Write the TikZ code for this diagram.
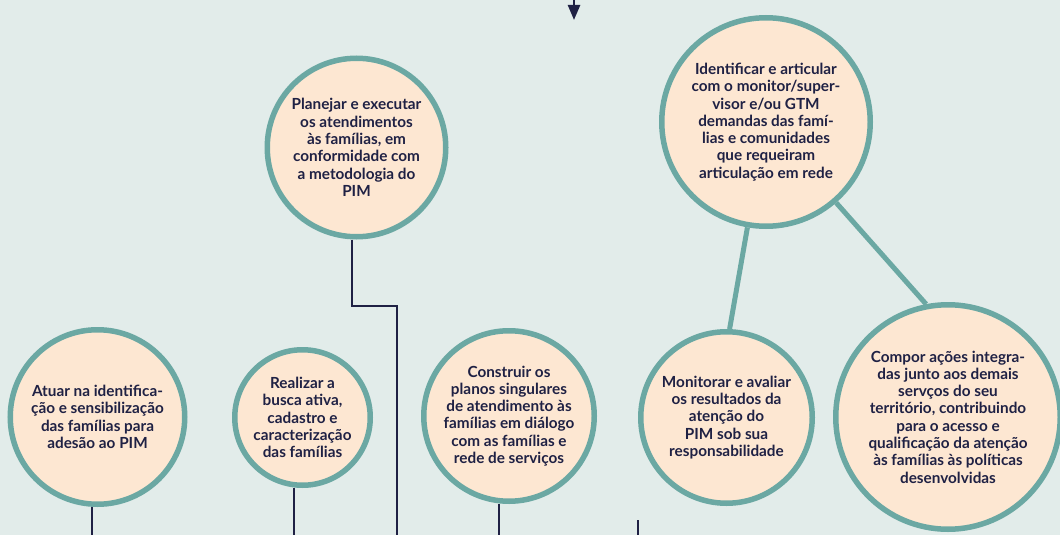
\documentclass[tikz,border=0pt]{standalone}
\usepackage{fontspec}
\setmainfont{Lato}
\usetikzlibrary{arrows.meta}
\definecolor{bgcol}{HTML}{E2ECEA}
\definecolor{peach}{HTML}{FDE7D2}
\definecolor{rim}{HTML}{6BA8A3}
\definecolor{ink}{HTML}{1F2144}
\tikzstyle{task}=[circle,draw=rim,fill=peach,line width=5.5pt,inner sep=0pt,align=center,text=ink,font=\fontsize{15.3}{17.3}\selectfont\bfseries]
\tikzstyle{link}=[draw=rim,line width=5pt]
\tikzstyle{wire}=[draw=ink,line width=2.4pt]

\begin{document}
\begin{tikzpicture}[x=1pt,y=-1pt]
\fill[bgcol] (0,0) rectangle (1060,535);
\useasboundingbox (0,0) rectangle (1060,535);
% arrow coming in from above
\coordinate (top) at (574,0);
\coordinate (tip) at (574,20);
\draw[wire,-{Triangle[width=12pt,length=15pt]}] (top) -- (tip);

  \node[task,minimum size=178.5pt] (plan) at (356.5,147.5) {Planejar e executar\\os atendimentos\\às famílias, em\\conformidade com\\a metodologia do\\PIM};
  \node[task,minimum size=208.5pt] (ident) at (766,122) {Identificar e articular\\com o monitor/super-\\visor e/ou GTM\\demandas das famí-\\lias e comunidades\\que requeiram\\articulação em rede};
  \node[task,minimum size=174.5pt] (atuar) at (97.5,417) {Atuar na identifica-\\ção e sensibilização\\das famílias para\\adesão ao PIM};
  \node[task,minimum size=135.5pt] (real) at (302.5,417.5) {Realizar a\\busca ativa,\\cadastro e\\caracterização\\das famílias};
  \node[task,minimum size=170.5pt] (constr) at (509,416) {Construir os\\planos singulares\\de atendimento às\\famílias em diálogo\\com as famílias e\\rede de serviços};
  \node[task,minimum size=171.5pt] (monit) at (726.5,417.5) {Monitorar e avaliar\\os resultados da\\atenção do\\PIM sob sua\\responsabilidade};
  \node[task,minimum size=224.5pt] (compor) at (948,417) {Compor ações integra-\\das junto aos demais\\servços do seu\\território, contribuindo\\para o acesso e\\qualificação da atenção\\às famílias às políticas\\desenvolvidas};

% teal links
\draw[link] (ident.-100) -- (monit.88);
\draw[link] (ident.-49) -- (compor.101);

% dark lines going down
\coordinate (b1) at (92,535);
\coordinate (b2) at (294,535);
\coordinate (b3) at (396.7,535);
\coordinate (b4) at (499,535);
\coordinate (b5) at (638,535);
\coordinate (m5) at (638,520);
\coordinate (k1) at (351.7,306);
\draw[wire] (atuar.south -| b1) -- (b1);
\draw[wire] (real.south -| b2) -- (b2);
\draw[wire] (constr.south -| b4) -- (b4);
\draw[wire] (m5) -- (b5);
\draw[wire] (plan.south -| k1) -- (k1) -| (b3);
\end{tikzpicture}
\end{document}
